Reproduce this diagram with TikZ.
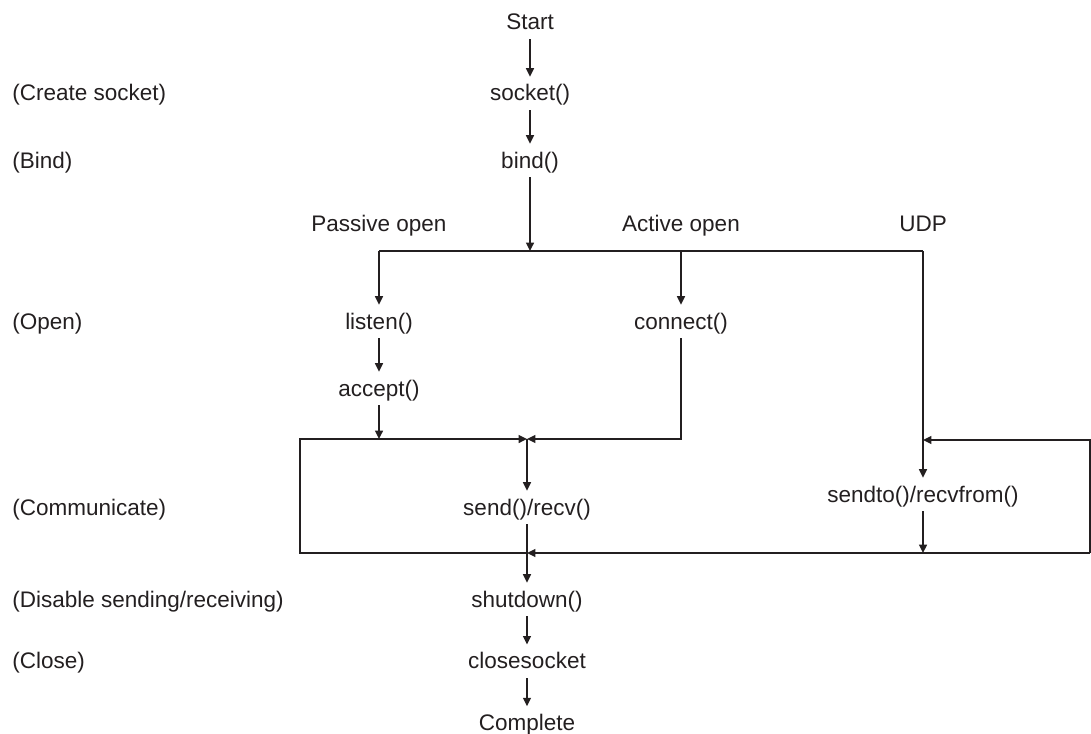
\documentclass[tikz,border=0pt]{standalone}
\usepackage{fontspec}
\setmainfont{Liberation Sans}
\usetikzlibrary{arrows.meta, positioning}
\definecolor{inkgray}{RGB}{35,31,32}

\begin{document}
\begin{tikzpicture}[
  x=0.5pt, y=-0.5pt,
  call/.style={
    font=\fontsize{11.25pt}{13pt}\selectfont, text=inkgray,
    text height=8.5pt, text depth=1pt,
    inner xsep=2pt, inner ysep=3.5pt, anchor=base},
  phase/.style={call, anchor=base west, inner xsep=0pt},
  arr/.style={-{Triangle[length=4.2pt,width=4pt]}, line width=0.7pt, inkgray},
  wire/.style={line width=0.7pt, inkgray},
  node distance=14pt
]
  \useasboundingbox (0,0) rectangle (1091,733);
  % Main column
  \node[call] (start) at (530,30) {Start};
  \node[call] (sock) at (530,101) {socket()};
  \node[call] (bind) at (530,168) {bind()};
  % Branches
  \node[call] (passive) at (379,231) {Passive open};
  \node[call] (active) at (681,231) {Active open};
  \node[call] (udp) at (923,231) {UDP};
  \node[call] (listen) at (379,329) {listen()};
  \node[call] (accept) at (379,396) {accept()};
  \node[call] (connect) at (681,329) {connect()};
  \node[call] (sendrecv) at (527,515) {send()/recv()};
  \node[call] (sendto) at (923,502) {sendto()/recvfrom()};
  \node[call] (shutdown) at (527,607) {shutdown()};
  \node[call, below=of shutdown] (close) {closesocket};
  \node[call, below=of close] (complete) {Complete};
  % Phase notes
  \coordinate (margin) at (12,0);
  \node[phase] at (margin |- sock.base) {(Create socket)};
  \node[phase] at (margin |- bind.base) {(Bind)};
  \node[phase] at (margin |- listen.base) {(Open)};
  \node[phase] at (margin |- sendrecv.base) {(Communicate)};
  \node[phase] at (margin |- shutdown.base) {(Disable sending/receiving)};
  \node[phase] at (margin |- close.base) {(Close)};
  % Junctions
  \coordinate (fork) at (530,251);
  \coordinate (join) at (527,439);
  \coordinate (merge) at (527,553);
  \coordinate (loopL) at (300,439);
  \coordinate (loopR) at (1090,553);
  \coordinate (udpin) at (923,440);
  % Arrows
  \draw[arr] (start) -- (sock);
  \draw[arr] (sock) -- (bind);
  \draw[arr] (bind) -- (fork);
  \draw[wire] (listen |- fork) -- (sendto |- fork);
  \draw[arr] (listen |- fork) -- (listen);
  \draw[arr] (connect |- fork) -- (connect);
  \draw[arr] (sendto |- fork) -- (sendto);
  \draw[arr] (listen) -- (accept);
  \draw[arr] (accept) -- (accept |- join);
  \draw[arr] (connect) |- (join);
  \draw[arr] (merge) -| (loopL) -- (join);
  \draw[arr] (join) -- (sendrecv);
  \draw[arr] (sendrecv) -- (shutdown);
  \draw[arr] (sendto) -- (sendto |- merge);
  \draw[arr] (loopR) -- (merge);
  \draw[arr] (loopR) |- (udpin);
  \draw[arr] (shutdown) -- (close);
  \draw[arr] (close) -- (complete);
\end{tikzpicture}
\end{document}
